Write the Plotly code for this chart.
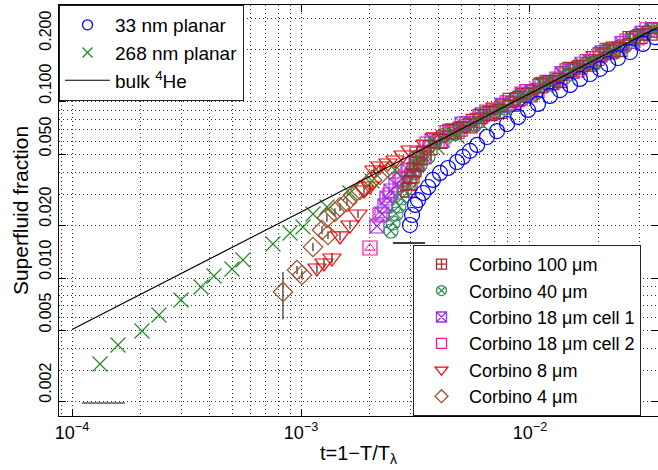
import plotly.graph_objects as go

# ---------------- data ----------------
t_33nm = [2.992e-3, 3.055e-3, 3.148e-3, 3.245e-3, 3.414e-3, 3.592e-3, 3.767e-3, 4.045e-3,
          4.385e-3, 4.797e-3, 5.092e-3, 5.470e-3, 5.875e-3, 6.486e-3, 7.178e-3, 7.943e-3,
          8.872e-3, 9.795e-3, 1.084e-2, 1.222e-2, 1.352e-2, 1.496e-2, 1.652e-2, 1.828e-2,
          2.023e-2, 2.193e-2, 2.421e-2, 2.735e-2, 3.112e-2, 3.516e-2]
rho_33nm = [0.0200, 0.0228, 0.0260, 0.02773, 0.03041, 0.03289, 0.03606, 0.03954,
            0.04217, 0.04560, 0.04875, 0.05275, 0.05704, 0.06324, 0.06839, 0.07499,
            0.08222, 0.09016, 0.0975, 0.1082, 0.1169, 0.1250, 0.1352, 0.1442,
            0.1542, 0.1644, 0.1778, 0.1923, 0.2138, 0.2338]

t_268nm = [1.325e-4, 1.588e-4, 2.021e-4, 2.398e-4, 2.992e-4, 3.659e-4, 4.170e-4, 4.996e-4,
           5.580e-4, 7.545e-4, 8.954e-4, 1.020e-3, 1.128e-3, 1.299e-3, 1.637e-3, 2.042e-3,
           2.573e-3, 3.210e-3, 3.925e-3, 4.800e-3, 6.049e-3, 7.623e-3, 9.320e-3, 1.163e-2,
           1.465e-2, 1.828e-2, 2.281e-2, 2.818e-2, 3.444e-2]
rho_268nm = [3.245e-3, 4.161e-3, 4.998e-3, 6.163e-3, 7.499e-3, 8.889e-3, 1.026e-2, 1.125e-2,
             1.266e-2, 1.560e-2, 1.802e-2, 1.949e-2, 2.310e-2, 2.532e-2, 3.041e-2, 3.557e-2,
             4.108e-2, 4.870e-2, 5.551e-2, 6.408e-2, 7.697e-2, 9.245e-2, 0.1068, 0.1249,
             0.1462, 0.1688, 0.1949, 0.2251, 0.2599]

t_bulk = [1.0e-4, 1.0e-3, 1.0e-2, 3.6e-2]
rho_bulk = [0.0051, 0.0237, 0.1118, 0.265]

t_100um = [2.933e-3, 2.993e-3, 3.054e-3, 3.115e-3, 3.211e-3, 3.310e-3, 3.444e-3, 3.660e-3,
           4.048e-3, 4.476e-3, 4.950e-3, 5.474e-3, 6.054e-3, 6.695e-3, 7.404e-3, 8.188e-3,
           9.054e-3, 1.000e-2, 1.106e-2, 1.223e-2, 1.352e-2, 1.496e-2, 1.654e-2, 1.829e-2,
           2.023e-2, 2.237e-2, 2.474e-2, 2.736e-2, 3.025e-2, 3.345e-2]
rho_100um = [0.0316, 0.0347, 0.0380, 0.0411, 0.0444, 0.0481, 0.0513, 0.0548,
             0.0597, 0.0682, 0.0702, 0.0731, 0.0825, 0.0859, 0.0883, 0.1022,
             0.1051, 0.1096, 0.1235, 0.1287, 0.1323, 0.1532, 0.1575, 0.1641,
             0.1852, 0.1929, 0.1983, 0.2295, 0.2361, 0.2460]

t_40um = [2.472e-3, 2.523e-3, 2.600e-3, 2.679e-3, 2.762e-3, 2.846e-3, 2.963e-3, 3.116e-3,
          3.310e-3, 3.587e-3, 3.849e-3, 4.257e-3, 4.707e-3, 5.206e-3, 5.757e-3, 6.366e-3,
          7.040e-3, 7.786e-3, 8.610e-3, 9.522e-3, 1.052e-2, 1.163e-2, 1.286e-2, 1.422e-2,
          1.573e-2, 1.739e-2, 1.923e-2, 2.127e-2, 2.352e-2, 2.601e-2, 2.877e-2, 3.181e-2,
          3.518e-2]
rho_40um = [0.01849, 0.02054, 0.02310, 0.02566, 0.02848, 0.03162, 0.03511, 0.03954,
            0.04385, 0.04870, 0.0593, 0.0651, 0.0661, 0.0735, 0.0746, 0.0864,
            0.0888, 0.0925, 0.1044, 0.1087, 0.1118, 0.1294, 0.1331, 0.1387,
            0.1564, 0.1629, 0.1675, 0.1940, 0.1995, 0.2079, 0.2345, 0.2442,
            0.2544]

t_18um_c1 = [2.147e-3, 2.258e-3, 2.327e-3, 2.375e-3, 2.472e-3, 2.600e-3, 2.762e-3, 2.963e-3,
             3.179e-3, 3.446e-3, 3.735e-3, 4.130e-3, 4.567e-3, 5.051e-3, 5.586e-3, 6.177e-3,
             6.831e-3, 7.554e-3, 8.354e-3, 9.238e-3, 1.020e-2, 1.128e-2, 1.248e-2, 1.380e-2,
             1.526e-2, 1.687e-2, 1.866e-2, 2.064e-2, 2.282e-2, 2.524e-2, 2.791e-2, 3.087e-2,
             3.413e-2]
rho_18um_c1 = [0.01975, 0.02310, 0.02566, 0.02848, 0.03121, 0.03376, 0.03700, 0.04055,
               0.04443, 0.04870, 0.0604, 0.0605, 0.0674, 0.0749, 0.0751, 0.0846,
               0.0871, 0.0956, 0.0970, 0.1108, 0.1140, 0.1252, 0.1287, 0.1452,
               0.1493, 0.1639, 0.1685, 0.1900, 0.1955, 0.2147, 0.2207, 0.2457,
               0.2560]

t_18um_c2 = [2.001e-3, 2.213e-3, 2.447e-3, 2.707e-3, 2.933e-3, 3.211e-3, 3.551e-3, 3.927e-3,
             4.343e-3, 4.803e-3, 5.311e-3, 5.874e-3, 6.496e-3, 7.183e-3, 7.944e-3, 8.785e-3,
             9.715e-3, 1.073e-2, 1.187e-2, 1.312e-2, 1.451e-2, 1.605e-2, 1.775e-2, 1.962e-2,
             2.170e-2, 2.400e-2, 2.654e-2, 2.935e-2, 3.246e-2]
rho_18um_c2 = [0.01481, 0.02280, 0.02962, 0.03606, 0.04108, 0.0505, 0.0577, 0.0601,
               0.0669, 0.0679, 0.0755, 0.0787, 0.0875, 0.0889, 0.0989, 0.1031,
               0.1146, 0.1163, 0.1295, 0.1349, 0.1501, 0.1524, 0.1696, 0.1767,
               0.1966, 0.1996, 0.2221, 0.2314, 0.2574]

t_8um = [1.174e-3, 1.260e-3, 1.365e-3, 1.480e-3, 1.637e-3, 1.774e-3, 1.884e-3, 2.001e-3,
         2.083e-3, 2.213e-3, 2.399e-3, 2.574e-3, 2.789e-3, 2.993e-3, 3.481e-3, 3.849e-3,
         4.257e-3, 4.707e-3, 5.206e-3, 5.757e-3, 6.366e-3, 7.040e-3, 7.786e-3, 8.610e-3,
         9.522e-3, 1.052e-2, 1.163e-2, 1.286e-2, 1.422e-2, 1.573e-2, 1.739e-2, 1.923e-2,
         2.127e-2, 2.352e-2, 2.601e-2, 2.877e-2, 3.181e-2, 3.518e-2]
rho_8um = [0.01140, 0.01217, 0.01299, 0.01733, 0.0200, 0.02310, 0.03162, 0.03332,
           0.04108, 0.04329, 0.04501, 0.04683, 0.05000, 0.05337, 0.0576, 0.0633,
           0.0651, 0.0714, 0.0735, 0.0807, 0.0830, 0.0935, 0.0976, 0.1017,
           0.1130, 0.1178, 0.1310, 0.1331, 0.1481, 0.1564, 0.1629, 0.1835,
           0.1889, 0.2075, 0.2134, 0.2374, 0.2474, 0.2683]
err_8um = [0.0008, 0.0008, 0.0009, 0.0010, 0.0011, 0.0012, 0.0015, 0.0015,
           0.0016, 0.0016, 0, 0, 0, 0, 0, 0, 0, 0, 0, 0, 0, 0, 0, 0,
           0, 0, 0, 0, 0, 0, 0, 0, 0, 0, 0, 0, 0, 0]

t_4um = [8.343e-4, 9.606e-4, 1.010e-3, 1.128e-3, 1.235e-3, 1.312e-3, 1.298e-3, 1.407e-3,
         1.480e-3, 1.588e-3, 1.687e-3, 1.810e-3, 1.903e-3, 2.042e-3, 2.213e-3, 2.447e-3]
rho_4um = [0.00833, 0.01110, 0.01040, 0.01500, 0.01874, 0.01755, 0.02193, 0.02371,
           0.02532, 0.02703, 0.02962, 0.03162, 0.03289, 0.03606, 0.03847, 0.04108]
err_4um = [0.0025, 0.0006, 0.0006, 0.0008, 0.0010, 0.0009, 0.0011, 0.0012,
           0.0013, 0.0014, 0, 0, 0, 0, 0, 0]

# horizontal uncertainty bars drawn in the figure
t_bar_33nm = [2.52e-3, 3.48e-3]
rho_bar_33nm = [0.01581, 0.01581]
t_bar_268nm = [1.106e-4, 1.703e-4]
rho_bar_268nm = [0.001949, 0.001949]

x_tick_vals = [1e-4, 1e-3, 1e-2]
x_tick_text = ["10<sup>−4</sup>", "10<sup>−3</sup>", "10<sup>−2</sup>"]
y_tick_vals = [0.002, 0.005, 0.01, 0.02, 0.05, 0.1, 0.2]
y_tick_text = ["0.002", "0.005", "0.010", "0.020", "0.050", "0.100", "0.200"]

x_minor = [k * 10.0 ** d for d in range(-5, 0) for k in range(2, 10)]
y_minor = [k * 10.0 ** d for d in range(-4, 1) for k in range(2, 10)]

FONT = "Liberation Sans, Arial, Helvetica, sans-serif"
GRID = "#333333"
DASH = "1px,3px"

C_33 = "#0000FF"
C_268 = "#228B22"
C_100 = "#A52A2A"
C_40 = "#2E8B57"
C_18A = "#A030F0"
C_18B = "#FF1493"
C_8 = "#FF0000"
C_4 = "#A0522D"

fig = go.Figure()


def markers(t, r, symbol, color, size, err=None, lw=1.2):
    kw = {}
    if err is not None:
        kw["error_y"] = dict(type="data", array=err, visible=True, color="black",
                             thickness=1, width=0)
    fig.add_trace(go.Scatter(
        x=t, y=r, mode="markers", showlegend=False, hoverinfo="x+y",
        marker=dict(symbol=symbol, size=size, color=color,
                    line=dict(color=color, width=lw)),
        **kw))


def legend_entry(name, legend, rank, symbol=None, color="black", size=10, line=False):
    # legend-only entry (no data points), so the key symbols can be small and thin
    if line:
        fig.add_trace(go.Scatter(x=[None], y=[None], mode="lines", name=name,
                                 legend=legend, legendrank=rank,
                                 line=dict(color=color, width=1.2)))
    else:
        fig.add_trace(go.Scatter(x=[None], y=[None], mode="markers", name=name,
                                 legend=legend, legendrank=rank,
                                 marker=dict(symbol=symbol, size=size, color=color,
                                             line=dict(color=color, width=1.3))))


markers(t_4um, rho_4um, "diamond-open", C_4, 15, err_4um)
markers(t_8um, rho_8um, "triangle-down-open", C_8, 16, err_8um)
markers(t_18um_c2, rho_18um_c2, "square-open", C_18B, 14)
markers(t_18um_c2, rho_18um_c2, "triangle-up-open", C_18B, 9, lw=1)
markers(t_18um_c1, rho_18um_c1, "square-x-open", C_18A, 14)
markers(t_40um, rho_40um, "circle-x-open", C_40, 14)
markers(t_100um, rho_100um, "square-cross-open", C_100, 14)
markers(t_268nm, rho_268nm, "x-thin-open", C_268, 15)
markers(t_33nm, rho_33nm, "circle-open", C_33, 15)

fig.add_trace(go.Scatter(x=t_bulk, y=rho_bulk, mode="lines", showlegend=False,
                         line=dict(color="black", width=1.2)))
fig.add_trace(go.Scatter(x=t_bar_33nm, y=rho_bar_33nm, mode="lines", showlegend=False,
                         line=dict(color="black", width=1.5)))
fig.add_trace(go.Scatter(x=t_bar_268nm, y=rho_bar_268nm, mode="lines", showlegend=False,
                         line=dict(color="#555555", width=1.5)))

legend_entry("33 nm planar", "legend", 1, "circle-open", C_33, 10)
legend_entry("268 nm planar", "legend", 2, "x-thin-open", C_268, 10)
legend_entry("bulk <sup>4</sup>He", "legend", 3, line=True)
legend_entry("Corbino 100 μm", "legend2", 1, "square-cross-open", C_100, 10)
legend_entry("Corbino 40 μm", "legend2", 2, "circle-x-open", C_40, 10)
legend_entry("Corbino 18 μm cell 1", "legend2", 3, "square-x-open", C_18A, 10)
legend_entry("Corbino 18 μm cell 2", "legend2", 4, "square-open", C_18B, 10)
legend_entry("Corbino 8 μm", "legend2", 5, "triangle-down-open", C_8, 11)
legend_entry("Corbino 4 μm", "legend2", 6, "diamond-open", C_4, 10)

axis_common = dict(
    type="log", showline=True, linecolor="black", linewidth=1, mirror="ticks",
    ticks="inside", ticklen=7, tickcolor="black", tickwidth=1,
    showgrid=True, gridcolor=GRID, griddash=DASH, gridwidth=1, zeroline=False,
)

legend_common = dict(
    xref="paper", yref="paper", bgcolor="white", bordercolor="#222222", borderwidth=1,
    itemsizing="trace", itemwidth=45, tracegroupgap=0,
)

fig.update_layout(
    width=658, height=470,
    margin=dict(l=59, r=0, t=5, b=54),
    paper_bgcolor="white", plot_bgcolor="white",
    font=dict(family=FONT, color="black", size=18),
    xaxis=dict(
        **axis_common,
        range=[-4.0568, -1.441],
        tickvals=x_tick_vals, ticktext=x_tick_text,
        tickfont=dict(size=18),
        minor=dict(tickvals=x_minor, showgrid=True, gridcolor=GRID, griddash=DASH,
                   ticks=""),
        title=dict(text="t=1−T/T<sub>λ</sub>", font=dict(size=20), standoff=4),
    ),
    yaxis=dict(
        **axis_common,
        range=[-2.7841, -0.4489],
        tickvals=y_tick_vals, ticktext=y_tick_text,
        tickangle=-90, ticklabelshift=-16, ticklabelstandoff=1,
        tickfont=dict(size=16, family="Liberation Sans Narrow, Liberation Sans, Arial"),
        minor=dict(tickvals=y_minor, showgrid=True, gridcolor=GRID, griddash=DASH,
                   ticks=""),
        title=dict(text="Superfluid fraction", font=dict(size=21), standoff=2),
    ),
    legend=dict(x=0, y=1, xanchor="left", yanchor="top", font=dict(size=19),
                **legend_common),
    legend2=dict(x=0.591, y=0, xanchor="left", yanchor="bottom", font=dict(size=18),
                 **legend_common),
    showlegend=True,
)

fig.write_html("out.html")
